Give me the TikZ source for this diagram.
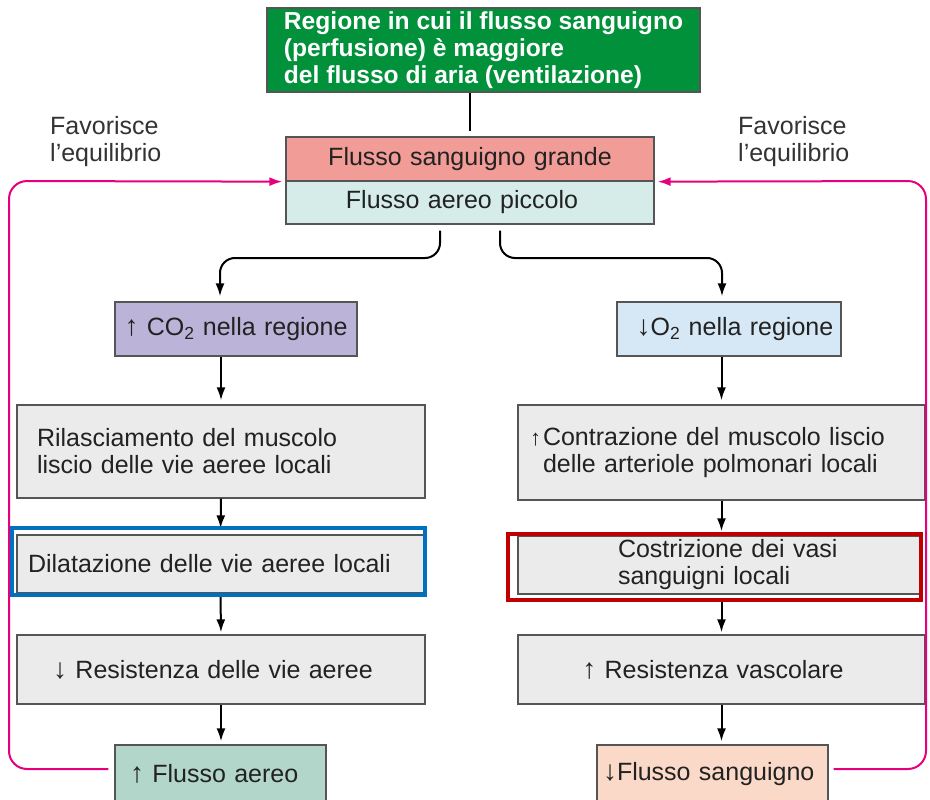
\documentclass[tikz,border=0pt]{standalone}
\usepackage{fontspec}
\setmainfont{Liberation Sans}
\usetikzlibrary{arrows.meta}
\definecolor{gbox}{HTML}{00913A}
\definecolor{pinkbox}{HTML}{F19C97}
\definecolor{cyanbox}{HTML}{D5ECE8}
\definecolor{purplebox}{HTML}{BCB3D9}
\definecolor{bluebox}{HTML}{D6E7F5}
\definecolor{greybox}{HTML}{EBEBEB}
\definecolor{mintbox}{HTML}{B2D6C9}
\definecolor{peachbox}{HTML}{FBD9C8}
\definecolor{hlblue}{HTML}{0070C0}
\definecolor{hlred}{HTML}{C00000}
\definecolor{magline}{HTML}{E6007E}
\definecolor{bord}{HTML}{555555}
\definecolor{txt}{HTML}{222222}
\definecolor{labtxt}{HTML}{333333}
\begin{document}
\begin{tikzpicture}[x=1pt,y=-1pt,
  every node/.style={font=\fontsize{25}{27}\selectfont, text=txt},
  panel/.style={draw=bord, line width=1.3pt, inner xsep=0pt, inner ysep=0pt},
  hlbox/.style={line width=4pt, inner sep=0pt, fill=none},
  lab/.style={text=labtxt, align=left, inner sep=0pt, anchor=west},
  arr/.style={draw=black, line width=2pt, -{Latex[length=13pt,width=9pt]}},
  fbline/.style={draw=magline, line width=2pt, rounded corners=18pt, -{Latex[length=13pt,width=9pt]}}]
\useasboundingbox (0,0) rectangle (930,800);

% top boxes
\node[panel, fill=gbox, text=white, font=\fontsize{24.6}{27}\selectfont\bfseries,
      align=left, minimum width=433pt, minimum height=84pt] (reg) at (483.5,50)
  {Regione in cui il flusso sanguigno\\(perfusione) è maggiore\\del flusso di aria (ventilazione)};
\node[panel, fill=pinkbox, align=center, text width=368pt, minimum height=44pt] (blood) at (470,159)
  {\raisebox{-2pt}{Flusso sanguigno grande}};
\node[panel, fill=cyanbox, align=center, text width=368pt, minimum height=43pt] (air) at (470,202.5)
  {\raisebox{-1pt}{Flusso aereo piccolo}\hspace*{16pt}};

% second row
\node[panel, fill=purplebox, align=center, text width=242pt, minimum height=54pt] (co2) at (236,329)
  {\raisebox{-2pt}{{\fontsize{28}{28}\selectfont↑} CO\textsubscript{2} nella regione}};
\node[panel, fill=bluebox, align=center, text width=224pt, minimum height=54pt] (o2) at (729,329)
  {\raisebox{-2pt}{\hspace*{12pt}{\fontsize{28}{28}\selectfont↓}O\textsubscript{2} nella regione}};

% left column
\node[panel, fill=greybox, align=left, text width=368pt, inner xsep=20pt, minimum height=93pt] (relax) at (221,451.5)
  {Rilasciamento del muscolo\\liscio delle vie aeree locali};
\node[panel, fill=greybox, align=left, text width=385pt, inner xsep=11pt, minimum height=58pt] (dil) at (220.5,564)
  {Dilatazione delle vie aeree locali};
\node[panel, fill=greybox, align=center, text width=408pt, minimum height=69pt] (res1) at (221,669.5)
  {{\fontsize{28}{28}\selectfont↓} Resistenza delle vie aeree\hspace*{16pt}};
\node[panel, fill=mintbox, align=left, text width=181pt, inner xsep=15pt, minimum height=58pt] (fa) at (220.5,774)
  {{\fontsize{28}{28}\selectfont↑} Flusso aereo};

% right column
\node[panel, fill=greybox, align=left, text width=357pt, inner xsep=25pt, minimum height=95pt] (contr) at (721.5,452.5)
  {\llap{{\fontsize{22}{22}\selectfont↑}\hspace{2pt}}Contrazione del muscolo liscio\\delle arteriole polmonari locali};
\node[panel, fill=greybox, align=left, text width=380pt, inner xsep=11pt, minimum height=58pt] (costr) at (719,565)
  {\hspace*{89pt}Costrizione dei vasi\\\hspace*{89pt}sanguigni locali};
\node[panel, fill=greybox, align=center, text width=407pt, minimum height=69pt] (res2) at (721.5,669.5)
  {{\fontsize{28}{28}\selectfont↑} Resistenza vascolare\hspace*{17pt}};
\node[panel, fill=peachbox, align=left, text width=219pt, inner xsep=6pt, minimum height=58pt] (fs) at (712.5,774)
  {{\fontsize{28}{28}\selectfont↓}Flusso sanguigno};

% labels
\node[lab] (favl) at (50,141.5) {Favorisce\\l’equilibrio};
\node[lab] (favr) at (738,141.5) {Favorisce\\l’equilibrio};

% helper coordinates
\coordinate (lm) at (220,258);
\coordinate (rm) at (722,258);
\coordinate (lc) at (9,181);
\coordinate (rc) at (926,181);

% connectors
\draw[black, line width=2.2pt, shorten >=5pt] (blood.north |- reg.south) -- (blood.north);
\draw[arr, rounded corners=15pt, shorten <=6pt, shorten >=5pt]
  ([xshift=-30pt]air.south) |- (lm) -- (lm |- co2.north);
\draw[arr, rounded corners=15pt, shorten <=6pt, shorten >=5pt]
  ([xshift=30pt]air.south) |- (rm) -- (rm |- o2.north);

\draw[arr, shorten >=4pt] (relax.north |- co2.south) -- (relax.north);
\draw[arr, shorten >=6pt] (relax.south) -- (dil.north);
\draw[arr, shorten >=2pt] (dil.south) -- (res1.north);
\draw[arr, shorten >=3pt] (res1.south) -- (res1.south |- fa.north);

\draw[arr, shorten >=4pt] (contr.north |- o2.south) -- (contr.north);
\draw[arr, shorten >=4pt] (contr.south) -- (contr.south |- costr.north);
\draw[arr, shorten <=6pt, shorten >=2pt] (res2.north |- costr.south) -- (res2.north);
\draw[arr, shorten >=3pt] (res2.south) -- (res2.south |- fs.north);

% feedback loops
\draw[fbline, shorten <=6pt, shorten >=3pt] ([yshift=5pt]fa.west) -| (lc) -- (blood.south west);
\draw[fbline, shorten <=5pt, shorten >=3pt] ([yshift=5pt]fs.east) -| (rc) -- (blood.south east);

% highlights
\node[hlbox, draw=hlblue, minimum width=413pt, minimum height=67pt] (dilhl) at (218.5,561.5) {};
\node[hlbox, draw=hlred, minimum width=413pt, minimum height=66pt] (costrhl) at (714.5,567) {};
\end{tikzpicture}
\end{document}
